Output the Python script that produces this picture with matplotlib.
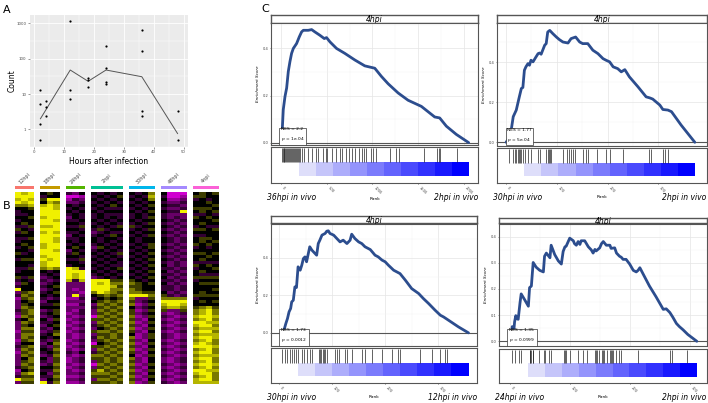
import numpy as np
import matplotlib
matplotlib.use("Agg")
import matplotlib.pyplot as plt
from matplotlib.colors import LinearSegmentedColormap

W, H = 708, 403

def rect(x0, y0, x1, y1):
    # pixel box (top-left origin) -> figure fraction
    return [x0 / W, 1 - y1 / H, (x1 - x0) / W, (y1 - y0) / H]

# ---------------- panel A data ----------------
hours_pts = [2, 2, 2, 2, 4, 4, 4, 12, 12, 12, 18, 18, 18, 24, 24, 24, 24, 36, 36, 36, 36, 48, 48]
counts_pts = [13, 5.2, 1.45, 0.49, 6.2, 4.3, 2.4, 1180, 12.7, 7.4, 28, 24.7, 15.4,
              226, 56, 22.6, 19, 648, 171, 3.3, 2.4, 3.3, 0.49]
mean_hours = [2, 12, 18, 24, 36, 48]
mean_counts = [2.0, 48, 23, 48, 31, 0.76]

# ---------------- panel B data (levels 0..8: magenta..black..yellow) ----------------
hm_groups = ["12hpi", "18hpi", "24hpi", "2hpi", "30hpi", "48hpi", "4hpi"]
hm_colors = ["#F8766D", "#C49A00", "#53B400", "#00C094", "#00B6EB", "#A58AFF", "#FB61D7"]
hm_12 = [["88786433", "43435343", "34345434", "43345323", "82312223", "21322212", "21232122", "22312382"],
         ["78876443", "44534543", "45443454", "43443454", "45654565", "56465656", "65456564", "56546565"],
         ["88787544", "54453445", "44534454", "35445344", "46565456", "65654656", "56465656", "65657565"]]
hm_18 = [["43547888", "78878788", "87788787", "76432323", "23432342", "32432323", "43234324", "32434328"],
         ["54878888", "88878888", "88888878", "87343234", "34324343", "43234234", "32423432", "23432343"],
         ["44867788", "87888787", "78878888", "86434345", "45434545", "54545456", "45656565", "56565656"]]
hm_24 = [["30124343", "23434323", "43423434", "38888722", "22212122", "12121212", "21212321", "12122121"],
         ["20323434", "43434343", "34545434", "47877322", "12812121", "21212121", "12121212", "21212121"],
         ["41234343", "34353434", "43434353", "43888722", "21232323", "32323232", "23232423", "32323232"]]
hm_2 = [["43434343", "34343234", "43234343", "43432888", "86434232", "20523252", "32052365", "20256525"],
        ["34343434", "43435343", "34543434", "34343878", "88545656", "56565465", "65456565", "56576565"],
        ["43434343", "34343434", "43434343", "43434888", "87656565", "65656565", "56565656", "65656565"],
        ["34345343", "43434354", "34343434", "34343567", "66545656", "56565656", "65656565", "56565656"],
        ["45434343", "34354343", "43435343", "35434565", "65656565", "65656565", "56565656", "65656565"]]
hm_30 = [["43434343", "34353434", "43434343", "43434565", "66865645", "56565654", "65656546", "56565656"],
         ["34343434", "43434343", "34343434", "34343455", "56822121", "21212121", "12121212", "21212121"],
         ["43434343", "34343434", "43434343", "43434344", "45823232", "32121212", "21212121", "12121212"],
         ["67645454", "54545454", "45545454", "54545454", "45654545", "45454545", "54545454", "45454545"]]
hm_48 = [["43434343", "34343434", "43434343", "43434343", "34568765", "23232323", "32323232", "23232323"],
         ["00123232", "23232323", "32323232", "23232323", "32368872", "12121212", "21212121", "12121212"],
         ["00123232", "32323232", "23232323", "32323232", "23268872", "21212121", "12121212", "21212121"],
         ["01232382", "23232323", "32323232", "23232323", "32368765", "32323232", "23232323", "32323232"]]
hm_4 = [["45344543", "54435434", "45345443", "53445344", "44534456", "67687676", "76786767", "67687677"],
        ["55444553", "44545435", "54445453", "44535454", "45545467", "78788787", "87887878", "78788787"],
        ["44354544", "54434445", "45344543", "54435454", "44544478", "88878787", "88788878", "88878887"],
        ["54445453", "45435444", "54445443", "45435454", "54545456", "67676767", "76676676", "67676667"]]
hm_data = [hm_12, hm_18, hm_24, hm_2, hm_30, hm_48, hm_4]

# ---------------- panel C data ----------------
es_title = "4hpi"
nes_vals = ["2.2", "1.77", "1.73", "1.35"]
p_vals = ["1e-04", "5e-04", "0.0012", "0.0999"]
left_labels = ["36hpi in vivo", "30hpi in vivo", "30hpi in vivo", "24hpi in vivo"]
right_labels = ["2hpi in vivo", "2hpi in vivo", "12hpi in vivo", "2hpi in vivo"]

rank1 = [0, 7, 25, 44, 62, 80, 98, 116, 135, 171, 200, 225, 244, 298, 335, 371, 425, 473, 498, 535,
         607, 698, 807, 916, 1025, 1098, 1171, 1280, 1389, 1534, 1680, 1734, 1807, 1916, 2051]
es1 = [0, 0.0, 0.140, 0.196, 0.232, 0.302, 0.344, 0.379, 0.400, 0.421, 0.449, 0.470, 0.477, 0.477,
       0.480, 0.470, 0.456, 0.442, 0.446, 0.428, 0.400, 0.379, 0.351, 0.326, 0.316, 0.281, 0.250,
       0.211, 0.180, 0.154, 0.109, 0.105, 0.070, 0.035, 0.0]
hits1 = [7, 18, 29, 36, 47, 58, 69, 80, 87, 98, 109, 120, 131, 142, 153, 164, 175, 185, 196, 207,
         233, 255, 291, 335, 378, 407, 462, 487, 502, 553, 596, 644, 669, 716, 742, 778, 807, 851,
         880, 909, 934, 982, 1007, 1036, 1193, 1262, 1287, 1564, 1709, 1724, 1734, 1927]

rank2 = [0, 5, 10, 14, 20, 26, 30, 33, 36, 39, 43, 46, 49, 53, 59, 63, 66, 69, 76, 79, 82, 86, 92,
         99, 105, 112, 122, 128, 137, 145, 151, 161, 171, 181, 191, 197, 204, 211, 220, 227, 234,
         243, 260, 276, 283, 289, 303, 309, 319, 326, 345, 372]
es2 = [0, 0.020, 0.061, 0.128, 0.161, 0.227, 0.269, 0.274, 0.360, 0.377, 0.393, 0.385, 0.410, 0.402,
       0.427, 0.443, 0.446, 0.440, 0.485, 0.493, 0.551, 0.559, 0.543, 0.526, 0.513, 0.501, 0.496,
       0.518, 0.526, 0.501, 0.493, 0.493, 0.460, 0.443, 0.418, 0.410, 0.402, 0.377, 0.368, 0.352,
       0.363, 0.327, 0.277, 0.227, 0.222, 0.216, 0.186, 0.164, 0.161, 0.153, 0.086, 0.0]
hits2 = [5, 14, 17, 20, 23, 25, 28, 30, 33, 38, 43, 49, 63, 66, 79, 82, 84, 86, 88, 112, 120, 124,
         128, 132, 135, 151, 158, 161, 179, 197, 204, 230, 282, 286, 309, 314, 319]

rank3 = [8, 13, 16, 19, 22, 24, 27, 30, 33, 36, 40, 43, 46, 49, 52, 58, 62, 65, 71, 74, 77, 81, 87,
         90, 93, 96, 103, 109, 115, 121, 128, 134, 137, 143, 150, 156, 162, 172, 181, 187, 194, 200,
         206, 216, 222, 228, 238, 250, 263, 272, 282, 294, 304, 310, 319, 338, 357]
es3 = [0, 0.050, 0.076, 0.112, 0.130, 0.165, 0.174, 0.245, 0.242, 0.352, 0.334, 0.361, 0.396, 0.405,
       0.379, 0.459, 0.441, 0.432, 0.414, 0.476, 0.494, 0.521, 0.530, 0.542, 0.544, 0.530, 0.521,
       0.503, 0.485, 0.494, 0.476, 0.494, 0.526, 0.503, 0.485, 0.476, 0.459, 0.444, 0.414, 0.405,
       0.388, 0.379, 0.361, 0.334, 0.325, 0.316, 0.281, 0.236, 0.210, 0.183, 0.156, 0.121, 0.094,
       0.085, 0.068, 0.032, 0.0]
hits3 = [6, 11, 16, 21, 24, 29, 33, 36, 43, 48, 52, 58, 62, 75, 77, 79, 82, 84, 87, 90, 106, 109,
         113, 124, 128, 137, 156, 162, 176, 194, 213, 225, 228, 266, 288, 304, 313, 316]

rank4 = [1, 3, 4, 7, 8, 10, 12, 14, 17, 19, 25, 31, 33, 36, 39, 44, 50, 56, 58, 61, 67, 69, 75, 81,
         86, 89, 92, 94, 100, 106, 108, 111, 114, 117, 119, 125, 131, 136, 139, 142, 144, 150, 153,
         156, 161, 167, 169, 175, 178, 183, 186, 189, 194, 200, 206, 211, 214, 217, 222, 233, 244,
         256, 261, 267, 272, 278, 283, 289, 297, 312]
es4 = [0, 0.026, 0.056, 0.048, 0.074, 0.098, 0.086, 0.084, 0.146, 0.181, 0.158, 0.134, 0.205, 0.211,
       0.301, 0.283, 0.271, 0.265, 0.325, 0.337, 0.319, 0.367, 0.331, 0.307, 0.295, 0.343, 0.361,
       0.363, 0.394, 0.384, 0.373, 0.367, 0.381, 0.370, 0.384, 0.384, 0.361, 0.349, 0.337, 0.351,
       0.345, 0.357, 0.373, 0.381, 0.367, 0.367, 0.355, 0.357, 0.337, 0.325, 0.321, 0.313, 0.313,
       0.295, 0.271, 0.265, 0.271, 0.281, 0.259, 0.211, 0.170, 0.122, 0.124, 0.110, 0.092, 0.068,
       0.056, 0.044, 0.026, 0.0]
hits4 = [4, 8, 16, 18, 33, 34, 36, 38, 39, 49, 57, 58, 66, 68, 90, 92, 93, 100, 114, 122, 128, 142,
         143, 146, 149, 153, 156, 158, 162, 167, 169, 171, 173, 178, 182, 186, 214, 267, 271, 295]

ranks = [rank1, rank2, rank3, rank4]
es_curves = [es1, es2, es3, es4]
hits_all = [hits1, hits2, hits3, hits4]
grad_start = [196, 36, 36, 31]

# ---------------- figure ----------------
fig = plt.figure(figsize=(W / 100, H / 100), dpi=100)
plt.rcParams['font.family'] = ['DejaVu Sans']

fig.text(3 / W, 1 - 10 / H, "A", fontsize=8, va="center")
fig.text(3 / W, 1 - 206 / H, "B", fontsize=8, va="center")
fig.text(261 / W, 1 - 9 / H, "C", fontsize=8, va="center")

# ---- A: counts over time ----
axA = fig.add_axes(rect(30, 15, 188, 147))
axA.set_facecolor("#EBEBEB")
axA.set_yscale("log")
axA.set_xlim(-1.5, 51.5)
axA.set_ylim(10 ** -0.45, 10 ** 3.24)
axA.set_xticks([0, 10, 20, 30, 40, 50])
axA.set_xticks([5, 15, 25, 35, 45], minor=True)
axA.set_yticks([1, 10, 100, 1000])
axA.set_yticklabels(["1", "10", "100", "1000"])
axA.set_yticks([10 ** -0.5, 10 ** 0.5, 10 ** 1.5, 10 ** 2.5], minor=True)
axA.yaxis.set_minor_formatter(plt.NullFormatter())
axA.grid(True, which="major", color="white", lw=0.6)
axA.grid(True, which="minor", color="white", lw=0.3)
axA.set_axisbelow(True)
for s in axA.spines.values():
    s.set_visible(False)
axA.tick_params(which="major", labelsize=2.8, length=1.5, width=0.4, colors="#4D4D4D", pad=1)
axA.tick_params(which="minor", length=0)
axA.plot(mean_hours, mean_counts, color="#555555", lw=0.7, zorder=2)
axA.scatter(hours_pts, counts_pts, s=2.5, color="black", zorder=3, linewidths=0)
axA.set_xlabel("Hours after infection", fontsize=5.5, labelpad=2)
axA.set_ylabel("Count", fontsize=5.5)
axA.yaxis.set_label_coords(-0.085, 0.5)

# ---- B: heatmaps ----
hm_cmap = LinearSegmentedColormap.from_list("mky", ["#D000D0", "#000000", "#F0F000"])
hm_x = [(15, 34), (40, 60), (66, 85), (91, 123), (129, 155), (161, 187), (193, 219)]
for name, col, cols, (x0, x1) in zip(hm_groups, hm_colors, hm_data, hm_x):
    arr = np.array([[int(c) for c in "".join(cc)] for cc in cols]).T
    axh = fig.add_axes(rect(x0, 192, x1, 384))
    axh.imshow((arr - 4) / 2.0, cmap=hm_cmap, vmin=-2, vmax=2, aspect="auto",
               interpolation="nearest")
    axh.axis("off")
    axb = fig.add_axes(rect(x0, 186, x1, 189.5))
    axb.set_facecolor(col)
    axb.set_xticks([])
    axb.set_yticks([])
    for s in axb.spines.values():
        s.set_visible(False)
    fig.text((x0 + x1) / 2 / W, 1 - 178 / H, name, fontsize=3.5, rotation=45,
             ha="center", va="center", color="#444444")

# ---- C: enrichment plots ----
layouts = [
    dict(x0=271, x1=478, top=15, strip=23, mbot=145, ltop=147, lbot=183, lab=197,
         xlim=(-109, 2153), ylim=(-0.01, 0.508), xt=[0, 500, 1000, 1500, 2000], yt=[0.0, 0.2, 0.4]),
    dict(x0=497, x1=707, top=15, strip=23, mbot=145.5, ltop=148, lbot=183, lab=197,
         xlim=(-18, 396), ylim=(-0.016, 0.596), xt=[0, 100, 200, 300], yt=[0.0, 0.2, 0.4]),
    dict(x0=271, x1=477, top=216, strip=223.5, mbot=346, ltop=348, lbot=383, lab=398,
         xlim=(-15, 373), ylim=(-0.07, 0.583), xt=[0, 100, 200, 300], yt=[0.0, 0.2, 0.4]),
    dict(x0=499, x1=707, top=218, strip=223.5, mbot=346, ltop=349, lbot=383, lab=398,
         xlim=(-18, 329), ylim=(-0.018, 0.42), xt=[0, 100, 200, 300], yt=[0.0, 0.1, 0.2, 0.3, 0.4]),
]
grad_cols = [np.array([0.87, 0.87, 0.98]) * (1 - t) + np.array([0.0, 0.0, 1.0]) * t
             for t in np.linspace(0, 1, 10)]
frame_col = "#555555"

for i, L in enumerate(layouts):
    # strip
    axs = fig.add_axes(rect(L["x0"], L["top"], L["x1"], L["strip"]))
    axs.set_xticks([])
    axs.set_yticks([])
    for s in axs.spines.values():
        s.set_color(frame_col)
        s.set_linewidth(1.0)
    axs.text(0.5, 0.45, es_title, fontsize=5.5, style="italic", ha="center", va="center",
             transform=axs.transAxes)

    # running enrichment score
    axm = fig.add_axes(rect(L["x0"], L["strip"], L["x1"], L["mbot"]))
    axm.set_xlim(*L["xlim"])
    axm.set_ylim(*L["ylim"])
    xt = L["xt"]
    axm.set_xticks(xt)
    axm.set_xticks([(a + b) / 2 for a, b in zip(xt[:-1], xt[1:])], minor=True)
    yt = L["yt"]
    axm.set_yticks(yt)
    axm.set_yticks([(a + b) / 2 for a, b in zip(yt[:-1], yt[1:])] + [yt[-1] + (yt[1] - yt[0]) / 2],
                   minor=True)
    axm.set_yticklabels([f"{v:.1f}" for v in yt])
    axm.tick_params(axis="x", which="both", labelbottom=False, length=0)
    axm.tick_params(axis="y", which="major", labelsize=2.6, length=1, width=0.4, pad=1,
                    colors="#444444")
    axm.tick_params(axis="y", which="minor", length=0)
    axm.grid(True, which="major", color="#E5E5E5", lw=0.5)
    axm.grid(True, which="minor", color="#F2F2F2", lw=0.3)
    axm.set_axisbelow(True)
    for s in axm.spines.values():
        s.set_color(frame_col)
        s.set_linewidth(0.8)
    axm.axhline(0, color=frame_col, lw=0.8)
    axm.plot(ranks[i], es_curves[i], color="#2C4D8E", lw=2.0, solid_capstyle="round")
    axm.set_ylabel("Enrichment Score", fontsize=3, style="italic", labelpad=2)
    axm.text(0.048, 0.015, f"NES = {nes_vals[i]}\n$p$ = {p_vals[i]}", transform=axm.transAxes,
             fontsize=3.2, ha="left", va="bottom", linespacing=1.8,
             bbox=dict(boxstyle="square,pad=0.35", fc="white", ec="#333333", lw=0.5))

    # hits + ranked list gradient
    axl = fig.add_axes(rect(L["x0"], L["ltop"], L["x1"], L["lbot"]))
    axl.set_xlim(*L["xlim"])
    axl.set_ylim(0, 1)
    axl.vlines(hits_all[i], 0.58, 0.97, color="#222222", lw=0.5)
    edges = np.linspace(grad_start[i], ranks[i][-1], 11)
    axl.bar(edges[:-1], 0.39, width=np.diff(edges), bottom=0.19, align="edge",
            color=grad_cols, linewidth=0)
    axl.set_yticks([])
    axl.set_xticks(xt)
    axl.set_xticklabels([str(v) for v in xt], rotation=-45, fontsize=2.6, color="#444444",
                        ha="left", va="top")
    axl.tick_params(axis="x", length=1, width=0.4, pad=1)
    for s in axl.spines.values():
        s.set_color(frame_col)
        s.set_linewidth(0.8)
    axl.set_xlabel("Rank", fontsize=3.2, labelpad=1)

    # comparison labels
    fig.text((L["x0"] - 4) / W, 1 - L["lab"] / H, left_labels[i], fontsize=5.5,
             style="italic", ha="left", va="center")
    fig.text(min(L["x1"], 706) / W, 1 - L["lab"] / H, right_labels[i], fontsize=5.5,
             style="italic", ha="right", va="center")

fig.savefig("out.png", dpi=100)
